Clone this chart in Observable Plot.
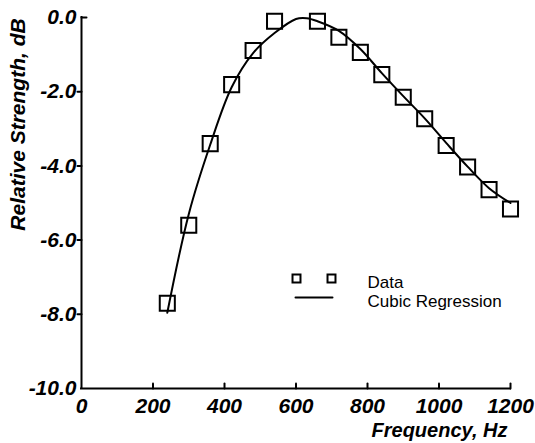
<!DOCTYPE html>
<html><head><meta charset="utf-8">
<script src="https://cdn.jsdelivr.net/npm/d3@7"></script>
<script src="https://cdn.jsdelivr.net/npm/@observablehq/plot@0.6"></script>
<style>
html,body{margin:0;padding:0;background:#fff;}
#chart svg{display:block;}
</style>
</head><body><div id="chart"></div>
<script>
// Measured data (squares)
const freqData = [240, 300, 360, 420, 480, 540, 660, 720, 780, 840, 900, 960, 1020, 1080, 1140, 1200];
const strengthData = [-7.7, -5.6, -3.4, -1.81, -0.89, -0.1, -0.1, -0.53, -0.94, -1.54, -2.15, -2.73, -3.45, -4.03, -4.64, -5.16];
// Cubic regression curve
const fitFreq = [240, 300, 360, 420, 480, 540, 600, 630, 660, 720, 780, 840, 900, 960, 1020, 1080, 1140, 1200];
const fitStrength = [-7.96, -5.30, -3.43, -1.88, -0.96, -0.42, -0.04, -0.02, -0.10, -0.36, -0.85, -1.50, -2.12, -2.72, -3.38, -4.02, -4.60, -5.00];
// Ticks and labels
const xTicks = [0, 200, 400, 600, 800, 1000, 1200];
const yTicks = [0, -2, -4, -6, -8, -10];
const xTitle = "Frequency, Hz";
const yTitle = "Relative Strength, dB";
const legendLabels = ["Data", "Cubic Regression"];

const points = freqData.map((f, i) => ({f, s: strengthData[i]}));
const fit = fitFreq.map((f, i) => ({f, s: fitStrength[i]}));

const tickShape = {draw(context, l) { context.moveTo(0, 0); context.lineTo(0, -l); }};
const boldItalic = {fontWeight: "bold", fontStyle: "italic"};

const chart = Plot.plot({
  width: 535,
  height: 443,
  marginLeft: 81,
  marginRight: 25,
  marginTop: 17,
  marginBottom: 55,
  style: {fontFamily: "'Liberation Sans', Arial, sans-serif", color: "black", background: "white", overflow: "visible"},
  x: {domain: [0, 1200]},
  y: {domain: [-10, 0]},
  marks: [
    Plot.axisY(yTicks, {tickSize: 0, tickPadding: 5, tickFormat: d => d.toFixed(1), fontSize: 21, ...boldItalic, label: null}),
    Plot.axisX(xTicks, {tickSize: 0, tickPadding: 10, tickFormat: d => String(d), fontSize: 21, ...boldItalic, label: null}),
    Plot.text([yTitle], {frameAnchor: "top-left", dx: -57, dy: 107, rotate: -90, lineAnchor: "bottom", textAnchor: "middle", fontSize: 21, ...boldItalic}),
    Plot.text([xTitle], {frameAnchor: "bottom-right", dx: -3, dy: 48, lineAnchor: "bottom", textAnchor: "end", fontSize: 20, ...boldItalic}),
    // axis lines
    Plot.ruleX([0], {stroke: "black", strokeWidth: 2, strokeLinecap: "square"}),
    Plot.ruleY([-10], {stroke: "black", strokeWidth: 2, strokeLinecap: "square"}),
    // ticks
    Plot.vector(xTicks.filter(d => d > 0), {x: d => d, y: () => -10, length: 5, rotate: 0, anchor: "start", shape: tickShape, stroke: "black", strokeWidth: 2}),
    Plot.vector(yTicks.filter(d => d < 0 && d > -10), {x: () => 0, y: d => d, length: 4, rotate: -90, anchor: "start", shape: tickShape, stroke: "black", strokeWidth: 2}),
    Plot.vector(yTicks.filter(d => d === 0), {x: () => 0, y: d => d, length: 5, rotate: 90, anchor: "start", shape: tickShape, stroke: "black", strokeWidth: 2}),
    // regression curve
    Plot.line(fit, {x: "f", y: "s", curve: "catmull-rom", stroke: "black", strokeWidth: 2}),
    // data squares
    Plot.dot(points, {x: "f", y: "s", symbol: "square", r: 8.5, stroke: "black", strokeWidth: 2, fill: "none"}),
    // legend
    Plot.dot([legendLabels[0]], {frameAnchor: "top-left", dx: 215, dy: 261, symbol: "square", r: 4.5, stroke: "black", strokeWidth: 2, fill: "none"}),
    Plot.dot([legendLabels[0]], {frameAnchor: "top-left", dx: 250, dy: 261, symbol: "square", r: 4.5, stroke: "black", strokeWidth: 2, fill: "none"}),
    Plot.vector([legendLabels[1]], {frameAnchor: "top-left", dx: 214, dy: 280, length: 37, rotate: 90, anchor: "start", shape: tickShape, stroke: "black", strokeWidth: 2}),
    Plot.text([legendLabels[0]], {frameAnchor: "top-left", dx: 286, dy: 270, lineAnchor: "bottom", textAnchor: "start", fontSize: 17}),
    Plot.text([legendLabels[1]], {frameAnchor: "top-left", dx: 286, dy: 289, lineAnchor: "bottom", textAnchor: "start", fontSize: 17})
  ]
});
document.getElementById("chart").appendChild(chart);
</script>
</body></html>
